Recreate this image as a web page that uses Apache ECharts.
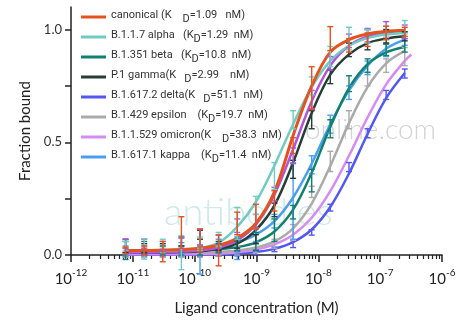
<!DOCTYPE html>
<html>
<head>
<meta charset="utf-8">
<script src="https://cdn.jsdelivr.net/npm/echarts@6/dist/echarts.min.js"></script>
<style>
  html, body { margin: 0; padding: 0; background: #fff; }
  #chart { width: 462px; height: 321px; }
</style>
</head>
<body>
<div id="chart"></div>
<script>
// ligand concentrations (M), 2-fold dilution from 250 nM
const conc = [2.5e-7, 1.25e-7, 6.25e-8, 3.13e-8, 1.56e-8, 7.81e-9, 3.91e-9, 1.95e-9,
  9.77e-10, 4.88e-10, 2.44e-10, 1.22e-10, 6.1e-11, 3.05e-11, 1.53e-11, 7.63e-12];
const omicronConc = [3.2e-7].concat(conc);

// fitted curves at each concentration
const canonicalFit = [0.997, 0.992, 0.98, 0.955, 0.9, 0.75, 0.53, 0.28, 0.14, 0.075, 0.043, 0.03, 0.024, 0.021, 0.02, 0.019];
const alphaFit = [0.985, 0.978, 0.962, 0.928, 0.861, 0.745, 0.58, 0.397, 0.235, 0.125, 0.055, 0.03, 0.022, 0.02, 0.018, 0.018];
const extraFit = [0.995, 0.987, 0.969, 0.928, 0.84, 0.682, 0.469, 0.268, 0.135, 0.065, 0.033, 0.02, 0.014, 0.012, 0.011, 0.01];
const gammaFit = [0.97, 0.96, 0.94, 0.89, 0.8, 0.63, 0.41, 0.22, 0.11, 0.05, 0.028, 0.017, 0.013, 0.011, 0.01, 0.01];
const betaFit = [0.923, 0.899, 0.847, 0.74, 0.568, 0.365, 0.201, 0.104, 0.056, 0.035, 0.026, 0.022, 0.021, 0.02, 0.02, 0.02];
const kappaFit = [0.955, 0.915, 0.84, 0.73, 0.58, 0.405, 0.255, 0.15, 0.09, 0.056, 0.039, 0.029, 0.025, 0.022, 0.021, 0.02];
const epsilonFit = [0.905, 0.85, 0.745, 0.585, 0.395, 0.228, 0.118, 0.06, 0.033, 0.02, 0.014, 0.012, 0.011, 0.01, 0.01, 0.01];
const omicronFit = [0.889, 0.861, 0.757, 0.61, 0.44, 0.283, 0.165, 0.09, 0.047, 0.024, 0.012, 0.006, 0.004, 0.003, 0.003, 0.003, 0.003];
const deltaFit = [0.807, 0.696, 0.537, 0.361, 0.213, 0.113, 0.057, 0.027, 0.013, 0.006, 0.003, 0.002, 0.001, 0.001, 0.001, 0.001];

// measured means and SD
const canonicalMean = [0.99, 0.985, 0.955, 0.93, 0.96, 0.74, 0.485, 0.24, 0.17, 0.14, 0.02, 0.064, 0.1, 0.015, 0.02, 0.02];
const canonicalSd = [0.02, 0.03, 0.03, 0.03, 0.053, 0.095, 0.035, 0.045, 0.055, 0.05, 0.068, 0.05, 0.07, 0.045, 0.02, 0.015];
const alphaMean = [1.01, 0.99, 0.97, 0.96, 0.88, 0.75, 0.6, 0.35, 0.22, 0.14, 0.07, 0.05, 0.01, 0.04, 0.027, 0.04];
const alphaSd = [0.03, 0.025, 0.03, 0.05, 0.045, 0.04, 0.04, 0.06, 0.04, 0.07, 0.03, 0.03, 0.075, 0.03, 0.045, 0.02];
const extraMean = [0.99, 1.0, 0.975, 0.95, 0.85, 0.69, 0.44, 0.27, 0.15, 0.13, 0.06, 0.08, 0.05, 0.04, 0.05, 0.05];
const extraSd = [0.03, 0.035, 0.03, 0.03, 0.03, 0.04, 0.035, 0.03, 0.03, 0.03, 0.03, 0.035, 0.025, 0.02, 0.02, 0.02];
const gammaMean = [0.97, 0.97, 0.955, 0.91, 0.79, 0.6, 0.38, 0.2, 0.07, 0.05, 0.04, 0.09, 0.06, 0.03, 0.03, 0.04];
const gammaSd = [0.02, 0.03, 0.045, 0.03, 0.03, 0.04, 0.04, 0.03, 0.02, 0.02, 0.02, 0.02, 0.02, 0.02, 0.02, 0.03];
const betaMean = [0.93, 0.91, 0.84, 0.76, 0.56, 0.33, 0.19, 0.11, 0.06, 0.04, 0.03, 0.02, 0.02, 0.02, 0.03, 0.02];
const betaSd = [0.03, 0.025, 0.03, 0.035, 0.04, 0.05, 0.03, 0.05, 0.04, 0.02, 0.02, 0.02, 0.02, 0.02, 0.03, 0.04];
const kappaMean = [0.96, 0.91, 0.83, 0.72, 0.58, 0.4, 0.24, 0.15, 0.09, 0.03, 0.04, 0.015, 0.025, 0.02, 0.02, 0.02];
const kappaSd = [0.03, 0.03, 0.03, 0.03, 0.04, 0.04, 0.17, 0.03, 0.03, 0.05, 0.03, 0.1, 0.03, 0.02, 0.02, 0.02];
const epsilonMean = [0.88, 0.84, 0.78, 0.6, 0.415, 0.28, 0.1, 0.05, 0.03, 0.02, 0.015, 0.01, 0.01, 0.01, 0.01, 0.01];
const epsilonSd = [0.04, 0.03, 0.03, 0.04, 0.045, 0.025, 0.035, 0.02, 0.02, 0.02, 0.02, 0.02, 0.02, 0.02, 0.02, 0.02];
const deltaMean = [0.805, 0.71, 0.54, 0.39, 0.21, 0.1, 0.048, 0.025, 0.012, 0.006, 0.004, 0.003, 0.002, 0.002, 0.002, 0.002];
const deltaSd = [0.02, 0.02, 0.02, 0.02, 0.015, 0.012, 0.015, 0.01, 0.01, 0.01, 0.01, 0.01, 0.01, 0.01, 0.01, 0.01];

// legend text: part before the subscript D, part after
const legendNames = ['canonical', 'alpha', 'beta', 'gamma', 'delta', 'epsilon', 'omicron', 'kappa'];
const legendPre = ['canonical (K    ', 'B.1.1.7 alpha   (K', 'B.1.351 beta   (K', 'P.1 gamma(K   ',
  'B.1.617.2 delta(K   ', 'B.1.429 epsilon    (K', 'B.1.1.529 omicron(K    ', 'B.1.617.1 kappa    (K'];
const legendPost = ['=1.09   nM)', '=1.29  nM)', '=10.8  nM)', '=2.99    nM)',
  '=51.1  nM)', '=19.7  nM)', '=38.3  nM)', '=11.4  nM)'];

const decadeTicks = [1e-12, 1e-11, 1e-10, 1e-9, 1e-8, 1e-7, 1e-6];
const minorTicks = [];
for (let e = -12; e < -6; e++) {
  for (let m = 2; m <= 9; m++) minorTicks.push(m * Math.pow(10, e));
}

const colors = {
  canonical: '#e5521d', alpha: '#72cbc2', beta: '#12806e', gamma: '#243e37',
  delta: '#5457f2', epsilon: '#aaaaaa', omicron: '#d68af2', kappa: '#4b9df0', extra: '#b352dc'
};

function curve(name, xs, fit, width) {
  return {
    type: 'line', name: name, data: xs.map((c, i) => [c, fit[i]]),
    smooth: 0.35, showSymbol: false, silent: true, z: 3,
    lineStyle: { width: width || 2.5, color: colors[name] },
    itemStyle: { color: colors[name] }
  };
}

function bars(name, mean, sd) {
  const color = colors[name];
  return {
    type: 'custom', name: name + ' sd', clip: false, silent: true, z: 4,
    data: conc.map((c, i) => [c, mean[i] - sd[i], mean[i] + sd[i]]),
    encode: { x: 0, y: [1, 2] },
    renderItem: function (params, api) {
      const top = api.coord([api.value(0), api.value(2)]);
      const bot = api.coord([api.value(0), api.value(1)]);
      const w = 3;
      const style = { stroke: color, lineWidth: 1.4 };
      return {
        type: 'group', children: [
          { type: 'line', shape: { x1: top[0], y1: top[1], x2: bot[0], y2: bot[1] }, style: style },
          { type: 'line', shape: { x1: top[0] - w, y1: top[1], x2: top[0] + w, y2: top[1] }, style: style },
          { type: 'line', shape: { x1: bot[0] - w, y1: bot[1], x2: bot[0] + w, y2: bot[1] }, style: style }
        ]
      };
    }
  };
}

const chart = echarts.init(document.getElementById('chart'));
const axisColor = '#222';

chart.setOption({
  animation: false,
  grid: { left: 71, right: 20, top: 7, bottom: 65 },
  graphic: [
    { type: 'text', left: 164, top: 194, z: 0,
      style: { text: 'antibodies', font: '300 38px Lato', fill: 'rgba(140,205,197,0.42)' } },
    { type: 'text', left: 305, top: 116, z: 0,
      style: { text: 'online.com', font: '300 28px Lato', fill: 'rgba(150,150,150,0.42)' } }
  ],
  legend: {
    orient: 'vertical', left: 76, top: 5, icon: 'rect', itemWidth: 25, itemHeight: 3, itemGap: 5,
    data: legendNames,
    formatter: function (name) {
      const i = legendNames.indexOf(name);
      return '{t|' + legendPre[i] + '}{s|D}{t|' + legendPost[i] + '}';
    },
    textStyle: {
      rich: {
        t: { fontFamily: 'Roboto', fontSize: 11, color: '#333', lineHeight: 14, verticalAlign: 'top' },
        s: { fontFamily: 'Roboto', fontSize: 11, color: '#333', lineHeight: 14, verticalAlign: 'top', padding: [4, 0, 0, 0] }
      }
    }
  },
  xAxis: [{
    type: 'log', logBase: 10, min: 1e-12, max: 1e-6,
    name: 'Ligand concentration (M)', nameLocation: 'middle', nameGap: 46,
    nameTextStyle: { fontFamily: 'Lato', fontSize: 15, color: axisColor },
    axisLine: { show: true, onZero: false, lineStyle: { color: axisColor, width: 1.5 } },
    axisTick: { show: true, length: 7, customValues: decadeTicks, lineStyle: { color: axisColor, width: 1.5 } },
    splitLine: { show: false },
    axisLabel: {
      customValues: decadeTicks, margin: 13,
      formatter: function (v) {
        return '{b|10}{e|' + Math.round(Math.log10(v)) + '}';
      },
      rich: {
        b: { fontFamily: 'Lato', fontSize: 15, color: axisColor, lineHeight: 16, padding: [4, 0, 0, 0], verticalAlign: 'top' },
        e: { fontFamily: 'Lato', fontSize: 10, color: axisColor, lineHeight: 12, verticalAlign: 'top' }
      }
    }
  }, {
    type: 'log', logBase: 10, min: 1e-12, max: 1e-6, position: 'bottom',
    axisLine: { show: false },
    axisTick: { show: true, length: 4, customValues: minorTicks, lineStyle: { color: axisColor, width: 1.2 } },
    axisLabel: { show: false },
    splitLine: { show: false }
  }],
  yAxis: {
    type: 'value', min: 0, max: 1.1,
    name: 'Fraction bound', nameLocation: 'middle', nameGap: 36,
    nameTextStyle: { fontFamily: 'Lato', fontSize: 15, color: axisColor },
    axisLine: { show: true, lineStyle: { color: axisColor, width: 1.5 } },
    axisTick: { show: true, length: 6, customValues: [0, 0.25, 0.5, 0.75, 1], lineStyle: { color: axisColor, width: 1.5 } },
    axisLabel: {
      customValues: [0, 0.5, 1], margin: 9,
      formatter: function (v) { return v.toFixed(1); },
      fontFamily: 'Lato', fontSize: 13, color: '#333'
    },
    splitLine: { show: false }
  },
  series: [
    curve('delta', conc, deltaFit),
    curve('omicron', omicronConc, omicronFit),
    curve('epsilon', conc, epsilonFit),
    curve('kappa', conc, kappaFit),
    curve('beta', conc, betaFit),
    curve('gamma', conc, gammaFit),
    curve('extra', conc, extraFit),
    curve('alpha', conc, alphaFit),
    curve('canonical', conc, canonicalFit, 3),
    bars('delta', deltaMean, deltaSd),
    bars('epsilon', epsilonMean, epsilonSd),
    bars('kappa', kappaMean, kappaSd),
    bars('beta', betaMean, betaSd),
    bars('gamma', gammaMean, gammaSd),
    bars('extra', extraMean, extraSd),
    bars('alpha', alphaMean, alphaSd),
    bars('canonical', canonicalMean, canonicalSd)
  ]
});
</script>
</body>
</html>
